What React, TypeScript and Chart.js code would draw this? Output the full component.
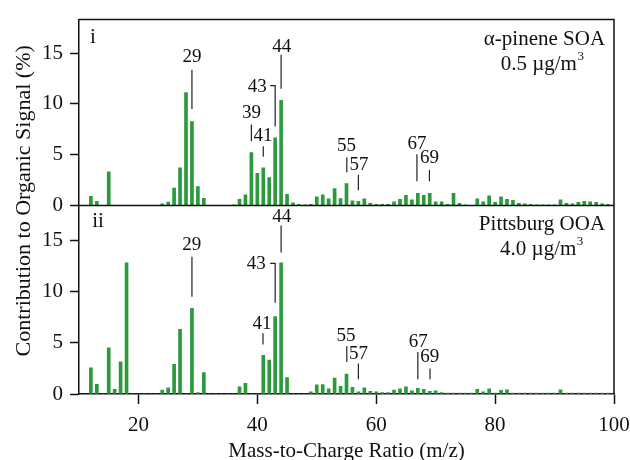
import { useEffect, useRef } from 'react';
import { Chart, registerables } from 'chart.js';

Chart.register(...registerables);

// m/z values (12 .. 100)
const massToCharge = [
  12, 13, 14, 15, 16, 17, 18, 19, 20, 21,
  22, 23, 24, 25, 26, 27, 28, 29, 30, 31,
  32, 33, 34, 35, 36, 37, 38, 39, 40, 41,
  42, 43, 44, 45, 46, 47, 48, 49, 50, 51,
  52, 53, 54, 55, 56, 57, 58, 59, 60, 61,
  62, 63, 64, 65, 66, 67, 68, 69, 70, 71,
  72, 73, 74, 75, 76, 77, 78, 79, 80, 81,
  82, 83, 84, 85, 86, 87, 88, 89, 90, 91,
  92, 93, 94, 95, 96, 97, 98, 99, 100,
];

// panel i: alpha-pinene SOA, 0.5 ug/m3
const alphaPineneSOA = [
  0.9, 0.4, 0, 3.3, 0, 0, 0, 0, 0, 0,
  0, 0, 0.15, 0.33, 1.7, 3.7, 11.1, 8.25, 1.85, 0.7,
  0, 0, 0, 0, 0.05, 0.6, 1.05, 5.2, 3.15, 3.7,
  2.75, 6.65, 10.35, 1.1, 0.25, 0.1, 0.05, 0.1, 0.85, 1.05,
  0.65, 1.65, 0.68, 2.15, 0.45, 0.4, 0.65, 0.2, 0.1, 0.1,
  0.1, 0.35, 0.6, 1.0, 0.55, 1.2, 1.0, 1.2, 0.35, 0.35,
  0.1, 1.2, 0.2, 0.05, 0, 0.65, 0.35, 0.95, 0.3, 0.85,
  0.6, 0.5, 0.2, 0.15, 0.1, 0.03, 0.03, 0.03, 0.03, 0.55,
  0.2, 0.15, 0.3, 0.4, 0.35, 0.3, 0.15, 0.1, 0.05,
];

// panel ii: Pittsburg OOA, 4.0 ug/m3
const pittsburgOOA = [
  2.55, 0.95, 0, 4.5, 0.45, 3.15, 12.8, 0, 0, 0,
  0, 0, 0.38, 0.6, 2.9, 6.3, 0, 8.35, 0.15, 2.1,
  0, 0, 0, 0, 0, 0.7, 1.03, 0, 0, 3.78,
  3.3, 7.55, 12.8, 1.6, 0, 0, 0, 0.2, 0.9, 0.93,
  0.5, 1.55, 0.75, 1.95, 0.65, 0.22, 0.6, 0.25, 0.22, 0.13,
  0.13, 0.38, 0.5, 0.7, 0.32, 0.55, 0.45, 0.25, 0.32, 0.15,
  0.1, 0.1, 0.1, 0.1, 0.1, 0.45, 0.2, 0.5, 0.1, 0.35,
  0.4, 0.1, 0.1, 0.1, 0.1, 0.1, 0.1, 0.1, 0.1, 0.4,
  0.1, 0.1, 0.1, 0.1, 0.1, 0.1, 0.1, 0.1, 0.1,
];

const xTicks = [20, 40, 60, 80, 100];
const yTicks = [0, 5, 10, 15];

// peak labels (data coordinates: m/z, % signal) with their leader lines
const topPeakLabels = [
  { text: '29', at: [29, 14.66], path: [[29, 13.37], [29, 9.49]] },
  { text: '39', at: [39, 9.07], path: [[39, 7.96], [39, 6.31]] },
  { text: '41', at: [40.95, 6.84], path: [[41, 5.83], [41, 4.8]] },
  { text: '43', at: [40.0, 11.7], path: [[42.16, 11.8], [43, 11.8], [43, 7.77]] },
  { text: '44', at: [44.1, 15.57], path: [[44, 14.83], [44, 11.5]] },
  { text: '55', at: [55, 5.83], path: [[55.05, 4.73], [55.05, 3.27]] },
  { text: '57', at: [57.1, 3.98], path: [[57, 3.01], [57, 1.5]] },
  { text: '67', at: [66.85, 6.02], path: [[66.85, 5.05], [66.85, 2.37]] },
  { text: '69', at: [68.95, 4.63], path: [[68.95, 3.5], [68.95, 2.37]] },
];
const bottomPeakLabels = [
  { text: '29', at: [28.95, 14.52], path: [[29, 13.39], [29, 9.48]] },
  { text: '41', at: [40.8, 6.83], path: [[40.95, 5.92], [40.95, 4.84]] },
  { text: '43', at: [39.8, 12.69], path: [[42.16, 12.75], [43, 12.75], [43, 8.9]] },
  { text: '44', at: [44.1, 17.24], path: [[44, 16.44], [44, 13.8]] },
  { text: '55', at: [54.9, 5.7], path: [[55.05, 4.67], [55.05, 3.13]] },
  { text: '57', at: [57.0, 3.88], path: [[57, 2.98], [57, 1.44]] },
  { text: '67', at: [67.05, 5.06], path: [[67, 4.1], [67, 1.44]] },
  { text: '69', at: [69.0, 3.62], path: [[69.05, 2.5], [69.05, 1.44]] },
];

const topPanelText = { tag: 'i', tagAt: [12.35, 16.5], name: 'α-pinene SOA', nameAt: [98.5, 16.35], conc: '0.5 µg/m', concAt: [87.9, 13.85] };
const bottomPanelText = { tag: 'ii', tagAt: [13.2, 16.8], name: 'Pittsburg OOA', nameAt: [98.5, 16.54], conc: '4.0 µg/m', concAt: [87.8, 14.1] };

const yTitle = 'Contribution to Organic Signal (%)';
const xTitle = 'Mass-to-Charge Ratio (m/z)';

const SERIF = '"Liberation Serif", "Times New Roman", serif';
const INK = '#111111';
const BAR = '#2a9a3c';

const overlayPlugin = {
  id: 'overlay',
  afterDatasetsDraw(chart: any) {
    const { ctx, chartArea: a, scales } = chart;
    const x = scales.x;
    const yT = scales.yTop;
    const yB = scales.yBot;
    ctx.save();
    // frame
    ctx.strokeStyle = INK;
    ctx.lineWidth = 1.5;
    ctx.beginPath();
    ctx.moveTo(a.left, a.top);
    ctx.lineTo(a.right, a.top);
    ctx.lineTo(a.right, a.bottom);
    const mid = yT.getPixelForValue(0);
    ctx.moveTo(a.left, mid);
    ctx.lineTo(a.right, mid);
    ctx.stroke();

    const drawPanel = (labels: any[], panel: any, y: any) => {
      ctx.fillStyle = INK;
      ctx.strokeStyle = '#222';
      ctx.lineWidth = 1.2;
      ctx.font = `19px ${SERIF}`;
      ctx.textAlign = 'center';
      ctx.textBaseline = 'middle';
      for (const l of labels) {
        ctx.fillText(l.text, x.getPixelForValue(l.at[0]), y.getPixelForValue(l.at[1]));
        ctx.beginPath();
        l.path.forEach((p: number[], i: number) => {
          const px = x.getPixelForValue(p[0]);
          const py = y.getPixelForValue(p[1]);
          if (i === 0) ctx.moveTo(px, py);
          else ctx.lineTo(px, py);
        });
        ctx.stroke();
      }
      ctx.font = `21px ${SERIF}`;
      ctx.textAlign = 'center';
      ctx.fillText(panel.tag, x.getPixelForValue(panel.tagAt[0]), y.getPixelForValue(panel.tagAt[1]));
      ctx.textAlign = 'right';
      ctx.fillText(panel.name, x.getPixelForValue(panel.nameAt[0]), y.getPixelForValue(panel.nameAt[1]));
      // concentration with superscript 3
      const cx = x.getPixelForValue(panel.concAt[0]);
      const cy = y.getPixelForValue(panel.concAt[1]);
      ctx.font = `21px ${SERIF}`;
      const w1 = ctx.measureText(panel.conc).width;
      ctx.font = `13px ${SERIF}`;
      const w2 = ctx.measureText('3').width;
      const start = cx - (w1 + w2) / 2;
      ctx.textAlign = 'left';
      ctx.font = `21px ${SERIF}`;
      ctx.fillText(panel.conc, start, cy);
      ctx.font = `13px ${SERIF}`;
      ctx.fillText('3', start + w1 + 0.5, cy - 8);
    };
    drawPanel(topPeakLabels, topPanelText, yT);
    drawPanel(bottomPeakLabels, bottomPanelText, yB);

    // shared y-axis title
    ctx.font = `22px ${SERIF}`;
    ctx.textAlign = 'center';
    ctx.textBaseline = 'middle';
    ctx.fillStyle = INK;
    ctx.translate(24, (a.top + a.bottom) / 2 - 6);
    ctx.rotate(-Math.PI / 2);
    ctx.fillText(yTitle, 0, 0);
    ctx.restore();
  },
};

export default function App() {
  const ref = useRef<HTMLCanvasElement>(null);
  useEffect(() => {
    document.body.style.margin = '0';
    const yAxis = (max: number, weight: number, stackWeight: number) => ({
      type: 'linear' as const,
      position: 'left' as const,
      stack: 'panels',
      stackWeight,
      weight,
      min: 0,
      max,
      afterBuildTicks: (axis: any) => {
        axis.ticks = yTicks.map((v) => ({ value: v }));
      },
      afterFit: (axis: any) => {
        axis.width = 79;
      },
      border: { display: true, color: INK, width: 1.5 },
      grid: { drawOnChartArea: false, drawTicks: true, tickLength: 9, tickColor: INK, tickWidth: 1.5 },
      ticks: { color: INK, padding: 7, font: { family: SERIF, size: 21 } },
    });
    const chart = new Chart(ref.current!, {
      type: 'bar',
      data: {
        datasets: [
          {
            label: 'α-pinene SOA',
            data: massToCharge.map((m, i) => ({ x: m, y: alphaPineneSOA[i] })),
            xAxisID: 'x',
            yAxisID: 'yTop',
            backgroundColor: BAR,
            borderWidth: 0,
            barThickness: 3,
            grouped: false,
          },
          {
            label: 'Pittsburg OOA',
            data: massToCharge.map((m, i) => ({ x: m, y: pittsburgOOA[i] })),
            xAxisID: 'x',
            yAxisID: 'yBot',
            backgroundColor: BAR,
            borderWidth: 0,
            barThickness: 3,
            grouped: false,
          },
        ],
      },
      options: {
        responsive: false,
        animation: false,
        layout: { padding: { top: 14, right: 16, left: 0, bottom: 0 } },
        plugins: { legend: { display: false }, tooltip: { enabled: false } },
        scales: {
          x: {
            type: 'linear',
            min: 10,
            max: 100,
            offset: false,
            afterBuildTicks: (axis: any) => {
              axis.ticks = xTicks.map((v) => ({ value: v }));
            },
            afterFit: (axis: any) => {
              axis.height = 66;
              axis.paddingLeft = 0;
              axis.paddingRight = 0;
            },
            border: { display: true, color: INK, width: 1.5 },
            grid: { offset: false, drawOnChartArea: false, drawTicks: true, tickLength: 10, tickColor: INK, tickWidth: 1.5 },
            ticks: { color: INK, padding: 9, maxRotation: 0, font: { family: SERIF, size: 21 } },
            title: { display: true, text: xTitle, color: INK, font: { family: SERIF, size: 21 }, padding: { top: 0, bottom: -4 } },
          },
          yBot: yAxis(18.4, 0, 1.015),
          yTop: yAxis(18.3, 1, 1),
        } as any,
      },
      plugins: [overlayPlugin],
    });
    return () => chart.destroy();
  }, []);
  return (
    <div style={{ width: 630, height: 460 }}>
      <canvas ref={ref} width={630} height={460} />
    </div>
  );
}
